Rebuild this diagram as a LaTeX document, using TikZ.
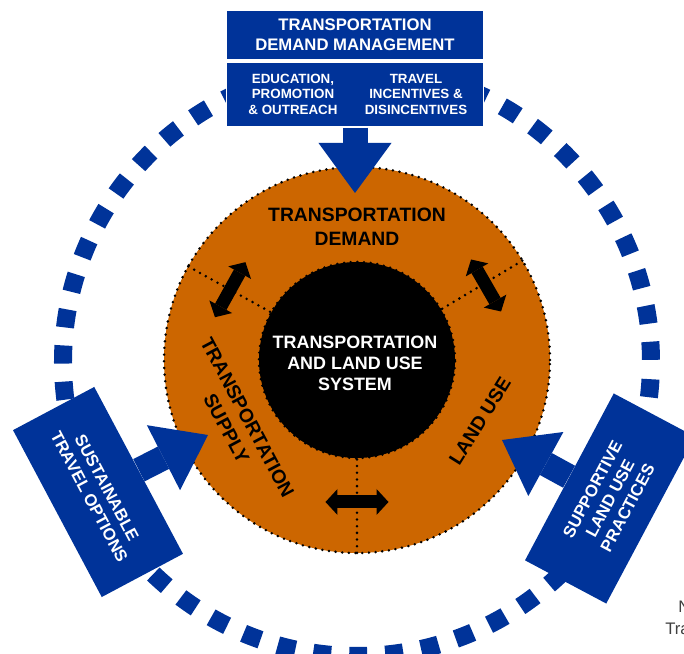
\documentclass[tikz,border=0pt]{standalone}
\usepackage{fontspec}
\setmainfont{Liberation Sans}
\usetikzlibrary{arrows.meta,positioning}
\definecolor{tdmblue}{RGB}{0,51,153}
\definecolor{tdmorange}{RGB}{204,102,0}
\definecolor{notegray}{RGB}{64,64,64}

\begin{document}
\begin{tikzpicture}[
  bluebox/.style={fill=tdmblue, text=white, align=center, inner sep=0pt, font=\bfseries\fontsize{9.5}{11.3}\selectfont},
  subtext/.style={text=white, align=center, inner sep=0pt, font=\bfseries\fontsize{7.6}{8.9}\selectfont},
  ringlabel/.style={align=center, inner sep=0pt, font=\bfseries\fontsize{11}{13.5}\selectfont},
  dotline/.style={line width=1.6pt, dash pattern=on 0pt off 3.8pt, line cap=round},
  bigarrow/.style={draw=tdmblue, line width=0.5cm, -{Triangle[length=1cm, width=1.46cm, line width=0pt]}},
  dblarrow/.style={line width=0.26cm, {Triangle[length=0.24cm, width=0.52cm, line width=0pt]}-{Triangle[length=0.24cm, width=0.52cm, line width=0pt]}}
]
\useasboundingbox (-7.14,-5.88) rectangle (6.54,7.2);
\draw[draw=tdmblue, line width=0.36cm, dash pattern=on 0.362cm off 0.362cm, dash phase=0.68cm] (0,-0.04) circle (5.88);
\node[circle, fill=tdmorange, draw, dotline, minimum size=7.72cm, inner sep=0pt] (ring) at (0,0) {};
\node[circle, fill=black, draw, dotline, minimum size=3.92cm, inner sep=0pt] (core) at (0,0) {};
\draw[dotline] (core.151) -- (ring.151);
\draw[dotline] (core.31) -- (ring.31);
\draw[dotline] (core.270) -- (ring.270);
\coordinate (la1) at (-2.231,1.957);
\coordinate (la2) at (-2.841,0.855);
\coordinate (ra1) at (2.281,2.010);
\coordinate (ra2) at (2.881,0.970);
\coordinate (ba1) at (-0.63,-2.84);
\coordinate (ba2) at (0.63,-2.84);
\draw[dblarrow] (la1) -- (la2);
\draw[dblarrow] (ra1) -- (ra2);
\draw[dblarrow] (ba1) -- (ba2);
\node[ringlabel] (dem) at (0,2.66) {TRANSPORTATION\\DEMAND};
\node[ringlabel, rotate=-62] (sup) at (-2.4,-1.26) {TRANSPORTATION\\SUPPLY};
\node[ringlabel, rotate=58] (lu) at (2.46,-1.22) {LAND USE};
\node[align=center, text=white, font=\bfseries\fontsize{10.2}{12}\selectfont] (sys) at (-0.04,-0.06) {TRANSPORTATION\\AND LAND USE\\SYSTEM};

\node[bluebox, draw=white, line width=1pt, minimum width=5.14cm, minimum height=1cm] (tdm) at (-0.04,6.5) {TRANSPORTATION\\DEMAND MANAGEMENT};
\node[bluebox, draw=white, line width=1pt, minimum width=5.14cm, minimum height=1.3cm, below=0pt of tdm] (tdmsub) {};
\node[subtext] (edu) at ([xshift=-1.24cm]tdmsub.center) {EDUCATION,\\PROMOTION\\\& OUTREACH};
\node[subtext] (trv) at ([xshift=1.22cm]tdmsub.center) {TRAVEL\\INCENTIVES \&\\DISINCENTIVES};
\coordinate (dtip) at (-0.04,3.34);
\draw[bigarrow] (tdmsub.south) -- (dtip);

\node[bluebox, rotate=-62, minimum width=3.78cm, minimum height=1.84cm] (sto) at (-5.18,-2.64) {SUSTAINABLE\\TRAVEL OPTIONS};
\coordinate (stip) at (-2.98,-1.5);
\draw[bigarrow] (sto.north) -- (stip);

\node[bluebox, rotate=62, minimum width=3.78cm, minimum height=1.84cm] (slu) at (5.06,-2.77) {SUPPORTIVE\\LAND USE\\PRACTICES};
\coordinate (ltip) at (2.9,-1.6);
\draw[bigarrow] (slu.north) -- (ltip);

\node[anchor=base west, inner sep=0pt, text=notegray, font=\fontsize{9.5}{11}\selectfont] (n1) at (6.42,-5.06) {N};
\node[anchor=base west, inner sep=0pt, text=notegray, font=\fontsize{9.5}{11}\selectfont] (n2) at (6.16,-5.5) {Tra};
\end{tikzpicture}
\end{document}
